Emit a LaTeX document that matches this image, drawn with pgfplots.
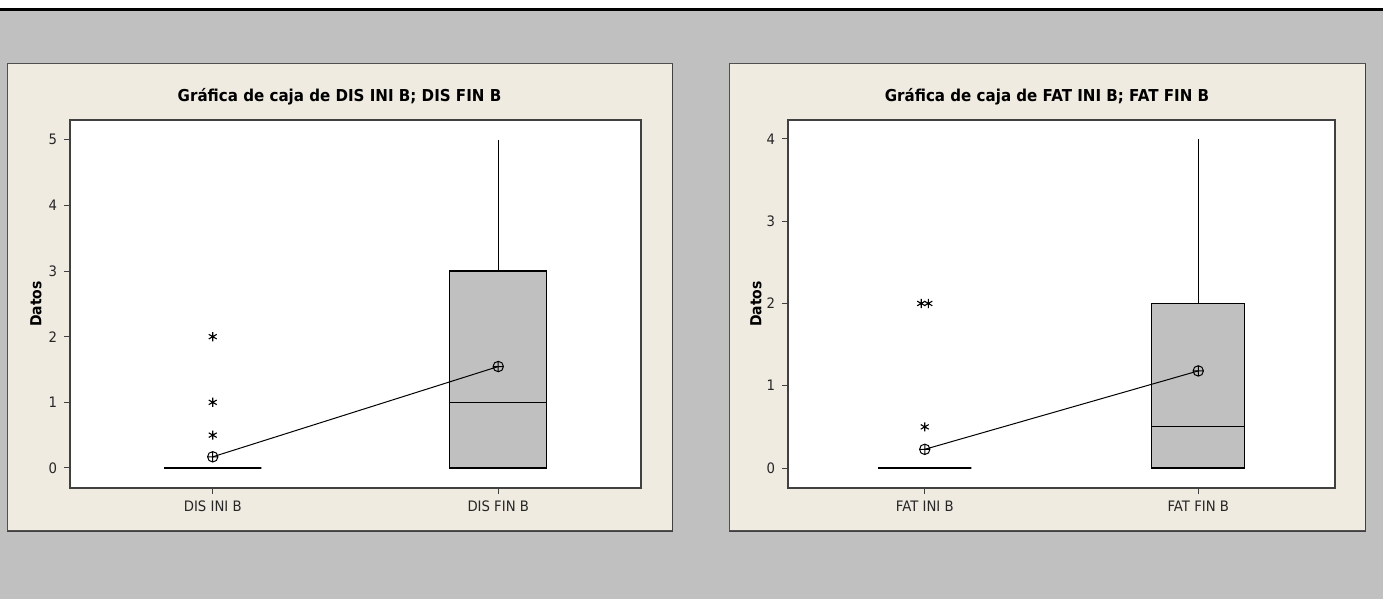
\documentclass[border=0pt]{standalone}
\usepackage{fontspec}
\setmainfont{DejaVu Sans}[FakeStretch=0.92]
\usepackage{pgfplots}
\pgfplotsset{compat=1.18}
\usepgfplotslibrary{statistics}
\definecolor{bggray}{RGB}{192,192,192}
\definecolor{panel}{RGB}{239,235,225}
\definecolor{boxgray}{RGB}{192,192,192}
\definecolor{axgray}{RGB}{64,64,64}
\definecolor{edge}{RGB}{80,80,80}
\pgfplotsset{minitab/.style={
  scale only axis, height=184pt,
  xmin=0.5, xmax=2.5, xtick={1,2},
  axis background/.style={fill=white},
  axis line style={draw=axgray, line width=0.6pt},
  tick align=outside, tick pos=left, major tick length=3pt,
  every tick/.style={draw=axgray, line width=0.5pt},
  ticklabel style={font=\fontsize{7.2}{8}\selectfont, text=black!85},
  /pgf/number format/assume math mode=true,
  clip=false,
  boxplot/draw direction=y,
  boxplot/whisker extend=0,
}}
\begin{document}
\begin{tikzpicture}[x=0.5pt,y=0.5pt]
% background
\fill[white] (0,0) rectangle (1383,599);
\fill[bggray] (0,0) rectangle (1383,588);
\fill[black] (0,588) rectangle (1383,591);
% panels
\fill[panel] (7,68) rectangle (672,535);
\draw[edge, line width=0.5pt] (7,68) rectangle (672,535);
\draw[axgray, line width=0.8pt] (672.5,535) -- (672.5,67.5) -- (7,67.5);
\fill[panel] (729,68) rectangle (1365,535);
\draw[edge, line width=0.5pt] (729,68) rectangle (1365,535);
\draw[axgray, line width=0.8pt] (1365.5,535) -- (1365.5,67.5) -- (729,67.5);
% titles
\node[font=\fontsize{8.2}{10}\selectfont\bfseries] at (339.5,502) {Gráfica de caja de DIS INI B; DIS FIN B};
\node[font=\fontsize{8.2}{10}\selectfont\bfseries] at (1047,502) {Gráfica de caja de FAT INI B; FAT FIN B};

% left axis
\begin{axis}[minitab, at={(35pt,55.5pt)}, anchor=south west, width=285.5pt,
  ymin=-0.305, ymax=5.30, ytick={0,1,2,3,4,5},
  xticklabels={DIS INI B, DIS FIN B}]
\addplot[boxplot prepared={median=0, upper quartile=0, lower quartile=0,
  upper whisker=0, lower whisker=0, draw position=1, box extend=0.34},
  draw=black, line width=0.6pt, fill=boxgray] coordinates {};
\addplot[boxplot prepared={median=1, upper quartile=3, lower quartile=0,
  upper whisker=5, lower whisker=3, draw position=2, box extend=0.34},
  draw=black, line width=0.55pt, fill=boxgray] coordinates {};
\addplot[only marks, mark=asterisk, mark size=2.3pt, mark options={black, line width=0.55pt}]
  coordinates {(1,2) (1,1) (1,0.5)};
\addplot[black, line width=0.5pt, mark=oplus, mark size=2.6pt,
  mark options={solid, fill opacity=0, line width=0.5pt}]
  coordinates {(1,0.17) (2,1.545)};
\node[rotate=90, font=\fontsize{7.6}{9}\selectfont\bfseries] at ([xshift=-17pt]rel axis cs:0,0.5) {Datos};
\end{axis}

% right axis
\begin{axis}[minitab, at={(394pt,55.5pt)}, anchor=south west, width=273.5pt,
  ymin=-0.243, ymax=4.23, ytick={0,1,2,3,4},
  xticklabels={FAT INI B, FAT FIN B}]
\addplot[boxplot prepared={median=0, upper quartile=0, lower quartile=0,
  upper whisker=0, lower whisker=0, draw position=1, box extend=0.34},
  draw=black, line width=0.6pt, fill=boxgray] coordinates {};
\addplot[boxplot prepared={median=0.5, upper quartile=2, lower quartile=0,
  upper whisker=4, lower whisker=2, draw position=2, box extend=0.34},
  draw=black, line width=0.55pt, fill=boxgray] coordinates {};
\addplot[only marks, mark=asterisk, mark size=2.3pt, mark options={black, line width=0.55pt}]
  coordinates {(0.987,2) (1.013,2) (1,0.5)};
\addplot[black, line width=0.5pt, mark=oplus, mark size=2.6pt,
  mark options={solid, fill opacity=0, line width=0.5pt}]
  coordinates {(1,0.227) (2,1.18)};
\node[rotate=90, font=\fontsize{7.6}{9}\selectfont\bfseries] at ([xshift=-16pt]rel axis cs:0,0.5) {Datos};
\end{axis}
\end{tikzpicture}
\end{document}
